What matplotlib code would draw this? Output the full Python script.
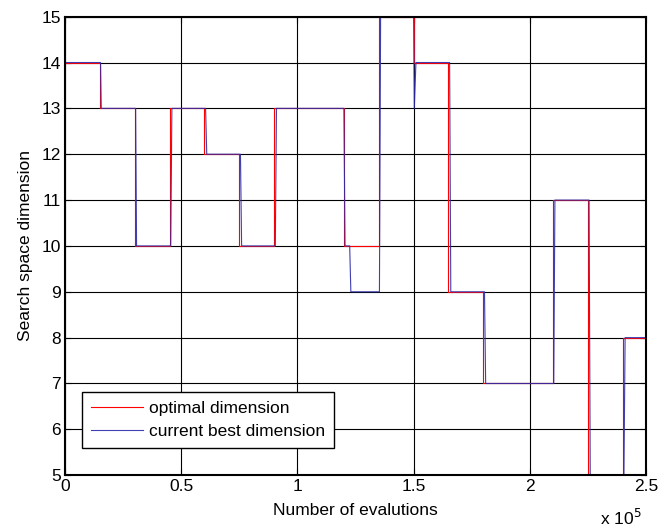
import numpy as np
import matplotlib
matplotlib.use("Agg")
import matplotlib.pyplot as plt
from matplotlib.ticker import FuncFormatter

plt.rcParams['font.family'] = ['Liberation Sans', 'DejaVu Sans']

# optimal dimension: value held from each switch point to the next
opt_x = [0, 15000, 30000, 45000, 60000, 75000, 90000, 120000, 135000,
         150000, 165000, 180000, 210000, 225000, 240000, 250000]
opt_y = [14, 13, 10, 13, 12, 10, 13, 10, 15, 14, 9, 7, 11, 5, 8, 8]

# current best dimension (follows the optimum with a small lag)
best_x = [0, 15300, 15600, 30400, 30800, 45500, 46000, 60500, 61000,
          75500, 76000, 90500, 91000, 120000, 120500, 122500, 123000,
          135300, 135800, 150000, 150300, 151000, 165500, 166000,
          180500, 181000, 210300, 210800, 225500, 226000, 240500,
          241000, 250000]
best_y = [14, 14, 13, 13, 10, 10, 13, 13, 12, 12, 10, 10, 13, 13, 10,
          10, 9, 9, 15, 15, 13, 14, 14, 9, 9, 7, 7, 11, 11, 5, 5, 8, 8]

fs = 12.5

fig = plt.figure(figsize=(6.59, 5.28), dpi=100)
ax = fig.add_axes([0.0986, 0.100, 0.8817, 0.8684])

ax.plot(opt_x, opt_y, color='#ff0000', lw=0.8, drawstyle='steps-post',
        label='optimal dimension')
ax.plot(best_x, best_y, color='#2b2ba8', lw=0.8, alpha=0.9,
        label='current best dimension')

ax.set_xlim(0, 250000)
ax.set_ylim(5, 15)
ax.set_xticks(np.arange(0, 250001, 50000))
ax.set_yticks(np.arange(5, 16, 1))
ax.xaxis.set_major_formatter(FuncFormatter(lambda v, p: '%g' % (v / 1e5)))
ax.grid(True, color='black', lw=0.8, ls='-')
ax.tick_params(direction='in', length=4, width=0.8, labelsize=fs,
               top=True, right=True, pad=3)
for s in ax.spines.values():
    s.set_linewidth(1.5)

ax.set_xlabel('Number of evalutions', fontsize=fs, labelpad=6)
ax.set_ylabel('Search space dimension', fontsize=fs, labelpad=6)
ax.text(0.993, -0.109, r'x 10$^5$', transform=ax.transAxes, fontsize=fs,
        ha='right', va='baseline')

leg = ax.legend(loc='lower left', bbox_to_anchor=(0.03, 0.059), fontsize=fs,
                borderaxespad=0, fancybox=False, framealpha=1,
                edgecolor='black', handlelength=3.0, handletextpad=0.35,
                borderpad=0.5, labelspacing=0.48)
leg.get_frame().set_linewidth(1.0)

fig.savefig('out.png', dpi=100)
